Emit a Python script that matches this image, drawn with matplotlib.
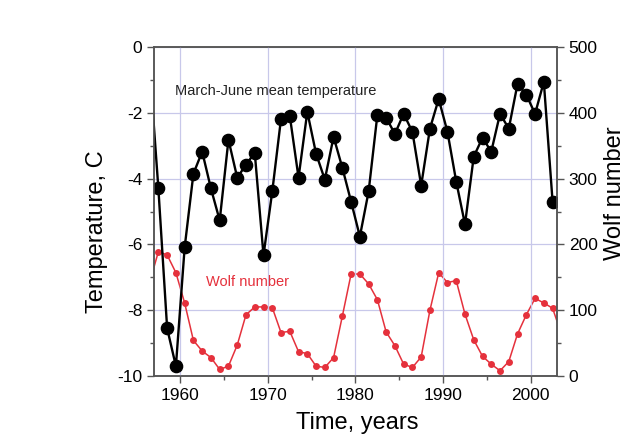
import matplotlib.pyplot as plt
from matplotlib.ticker import MultipleLocator

plt.rcParams["font.family"] = ["Liberation Sans", "DejaVu Sans"]

# annual values, plotted at mid-year
years = list(range(1956, 2004))

temperature = [
    -0.6, -4.30, -8.55, -9.70, -6.09, -3.85, -3.18, -4.30, -5.27, -2.82,
    -3.97, -3.58, -3.21, -6.33, -4.39, -2.18, -2.09, -3.97, -1.97, -3.24,
    -4.03, -2.73, -3.67, -4.70, -5.76, -4.39, -2.06, -2.15, -2.64, -2.03,
    -2.58, -4.21, -2.48, -1.58, -2.58, -4.09, -5.39, -3.33, -2.76, -3.18,
    -2.03, -2.48, -1.12, -1.45, -2.03, -1.06, -4.70,
]

wolf = [
    142, 189, 184, 157, 111, 54, 38, 28, 10, 15,
    47, 93, 105, 105, 104, 66, 68, 37, 34, 15,
    13, 28, 91, 155, 155, 140, 116, 67, 46, 18,
    13, 29, 100, 157, 142, 145, 94, 55, 30, 18,
    8, 22, 64, 93, 118, 111, 103, 64,
]

t_years = [y + 0.5 for y in years[:len(temperature)]]
w_years = [y + 0.5 for y in years[:len(wolf)]]

fig = plt.figure(figsize=(6.43, 4.43), dpi=100)
ax = fig.add_axes([0.2395, 0.1512, 0.6267, 0.7427])
ax2 = ax.twinx()

# temperature axes on top so the black series covers the red one
ax.set_zorder(ax2.get_zorder() + 1)
ax.patch.set_visible(False)

grid_col = "#c8c8ea"
ax2.grid(True, axis="y", color=grid_col, lw=0.9)
ax.grid(True, axis="x", color=grid_col, lw=0.9)
ax.set_axisbelow(True)
ax2.set_axisbelow(True)

ax2.plot(w_years, wolf, "-o", color="#e5313c", lw=1.1, ms=5.0,
         markeredgewidth=0)
# first year sits left of the axis, only its line segment shows
ax.plot(t_years, temperature, "-o", color="black", lw=1.7, ms=8.8,
        markevery=slice(1, None))

ax.set_xlim(1957, 2003)
ax.set_ylim(-10, 0)
ax2.set_ylim(0, 500)

ax.xaxis.set_major_locator(MultipleLocator(10))
ax.xaxis.set_minor_locator(MultipleLocator(5))
ax.yaxis.set_major_locator(MultipleLocator(2))
ax.yaxis.set_minor_locator(MultipleLocator(1))
ax2.yaxis.set_major_locator(MultipleLocator(100))
ax2.yaxis.set_minor_locator(MultipleLocator(50))

spine_col = "#555555"
for a in (ax, ax2):
    for s in a.spines.values():
        s.set_color(spine_col)
        s.set_linewidth(1.1)
    a.tick_params(which="both", direction="out", color=spine_col,
                  labelsize=12.5, width=1.0)
    a.tick_params(which="major", length=5)
    a.tick_params(which="minor", length=3)
ax.tick_params(axis="x", which="both", top=False)

ax.set_yticks([0, -2, -4, -6, -8, -10])
ax.set_yticklabels(["0", "-2", "-4", "-6", "-8", "-10"])

ax.set_xlabel("Time, years", fontsize=17)
ax.set_ylabel("Temperature, C", fontsize=17)
ax2.set_ylabel("Wolf number", fontsize=17)
ax.xaxis.set_label_coords(0.504, -0.11)
ax.yaxis.set_label_coords(-0.114, 0.438)
ax2.yaxis.set_label_coords(1.117, 0.556)

ax.text(1959.4, -1.33, "March-June mean temperature", fontsize=10.5,
        color="#222222", va="center", ha="left")
ax.text(1962.9, -7.15, "Wolf number", fontsize=10.5,
        color="#e5313c", va="center", ha="left")

fig.savefig("out.png", dpi=100)
